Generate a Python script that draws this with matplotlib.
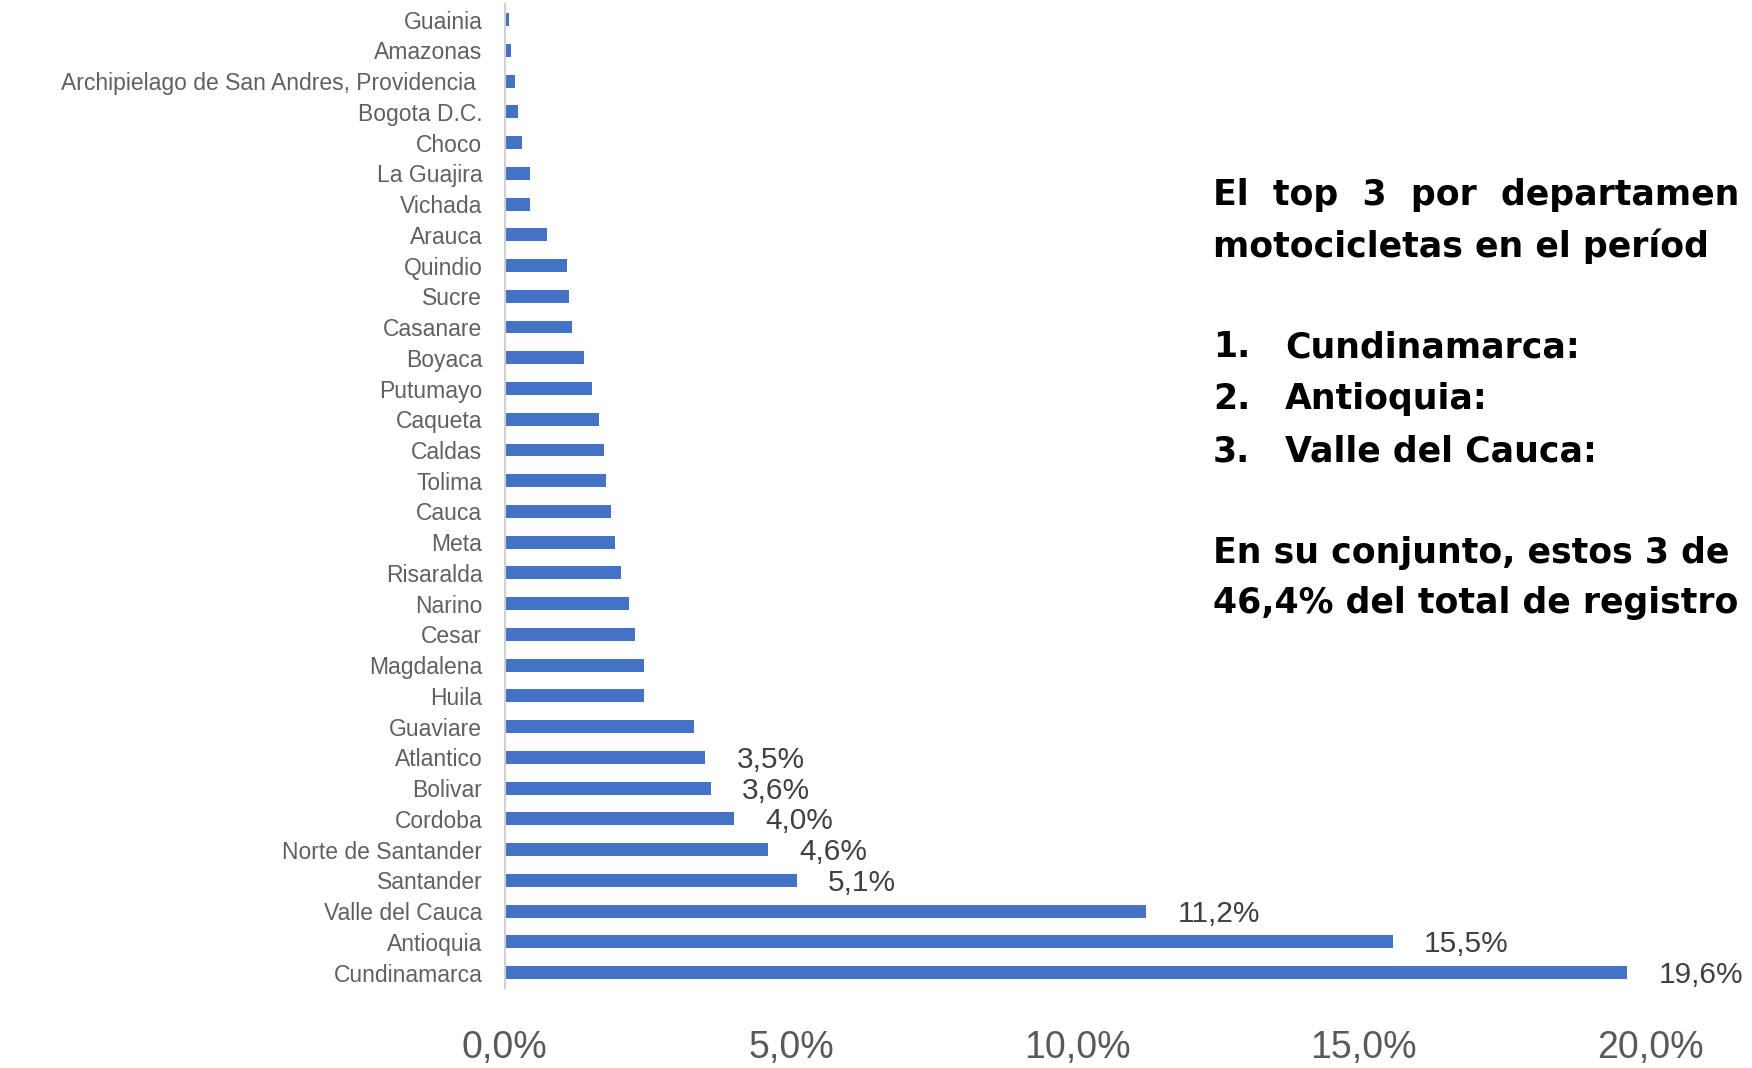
"""
Registro de motocicletas por departamento (participacion %)
"""

import matplotlib
matplotlib.use("Agg")
import matplotlib.pyplot as plt
from matplotlib.ticker import FuncFormatter

# bottom -> top, as drawn
departamentos = [
    "Cundinamarca", "Antioquia", "Valle del Cauca", "Santander",
    "Norte de Santander", "Cordoba", "Bolivar", "Atlantico", "Guaviare",
    "Huila", "Magdalena", "Cesar", "Narino", "Risaralda", "Meta", "Cauca",
    "Tolima", "Caldas", "Caqueta", "Putumayo", "Boyaca", "Casanare",
    "Sucre", "Quindio", "Arauca", "Vichada", "La Guajira", "Choco",
    "Bogota D.C.", "Archipielago de San Andres, Providencia ", "Amazonas",
    "Guainia",
]
participacion = [
    19.6, 15.5, 11.2, 5.1, 4.6, 4.0, 3.6, 3.5, 3.3,
    2.44, 2.44, 2.28, 2.18, 2.03, 1.93, 1.85,
    1.77, 1.73, 1.64, 1.52, 1.38, 1.17,
    1.13, 1.09, 0.74, 0.45, 0.45, 0.31,
    0.23, 0.19, 0.12, 0.08,
]
n_etiquetas = 8  # only the top 8 carry a data label
x_ticks = [0, 5, 10, 15, 20]

# the panel text is cut at the slide edge in the source
texto_top = [
    "El  top  3  por  departamen",
    "motocicletas en el períod",
]
lista_top = ["Cundinamarca:", "Antioquia:", "Valle del Cauca:"]
texto_conjunto = [
    "En su conjunto, estos 3 de",
    "46,4% del total de registro",
]


def pct(v, pos=None):
    return f"{v:.1f}".replace(".", ",") + "%"


def main():
    fig = plt.figure(figsize=(17.52, 10.68), dpi=100)
    ax = fig.add_axes([0.288, 0.075, 0.654, 0.921])

    y = list(range(len(departamentos)))
    ax.barh(y, participacion, height=0.42, color="#4472C4")

    for i in range(n_etiquetas):
        ax.text(participacion[i] + 0.55, y[i] - 0.08, pct(participacion[i]),
                va="center", ha="left", fontsize=21.5, color="#404040",
                family="Liberation Sans")

    ax.set_yticks(y)
    ax.set_yticklabels(departamentos, fontsize=16.5, color="#606060",
                       family="Liberation Sans")
    ax.set_ylim(-0.5, len(departamentos) - 0.5)
    ax.set_xlim(0, 20)
    ax.set_xticks(x_ticks)
    ax.xaxis.set_major_formatter(FuncFormatter(pct))
    for lab in ax.get_xticklabels():
        lab.set_fontsize(27)
        lab.set_color("#595959")
        lab.set_family("Liberation Sans")
    ax.tick_params(axis="x", length=0, pad=30)
    ax.tick_params(axis="y", length=0, pad=16)

    for s in ["top", "right", "bottom"]:
        ax.spines[s].set_visible(False)
    ax.spines["left"].set_color("#D0D0D0")
    ax.spines["left"].set_linewidth(1.5)

    # text panel on the right
    fkw = dict(fontsize=25, fontweight="bold", color="black",
               family="DejaVu Sans", va="center", ha="left")
    x0 = 1213 / 1752
    x1 = 1285 / 1752
    for t, yy in zip(texto_top, [195, 246]):
        fig.text(x0, 1 - yy / 1068, t, **fkw)
    for k, (t, yy) in enumerate(zip(lista_top, [347, 399, 451])):
        fig.text(x0, 1 - yy / 1068, f"{k + 1}.", **fkw)
        fig.text(x1, 1 - yy / 1068, t, **fkw)
    for t, yy in zip(texto_conjunto, [553, 603]):
        fig.text(x0, 1 - yy / 1068, t, **fkw)

    fig.savefig("out.png", dpi=100)


if __name__ == "__main__":
    main()
